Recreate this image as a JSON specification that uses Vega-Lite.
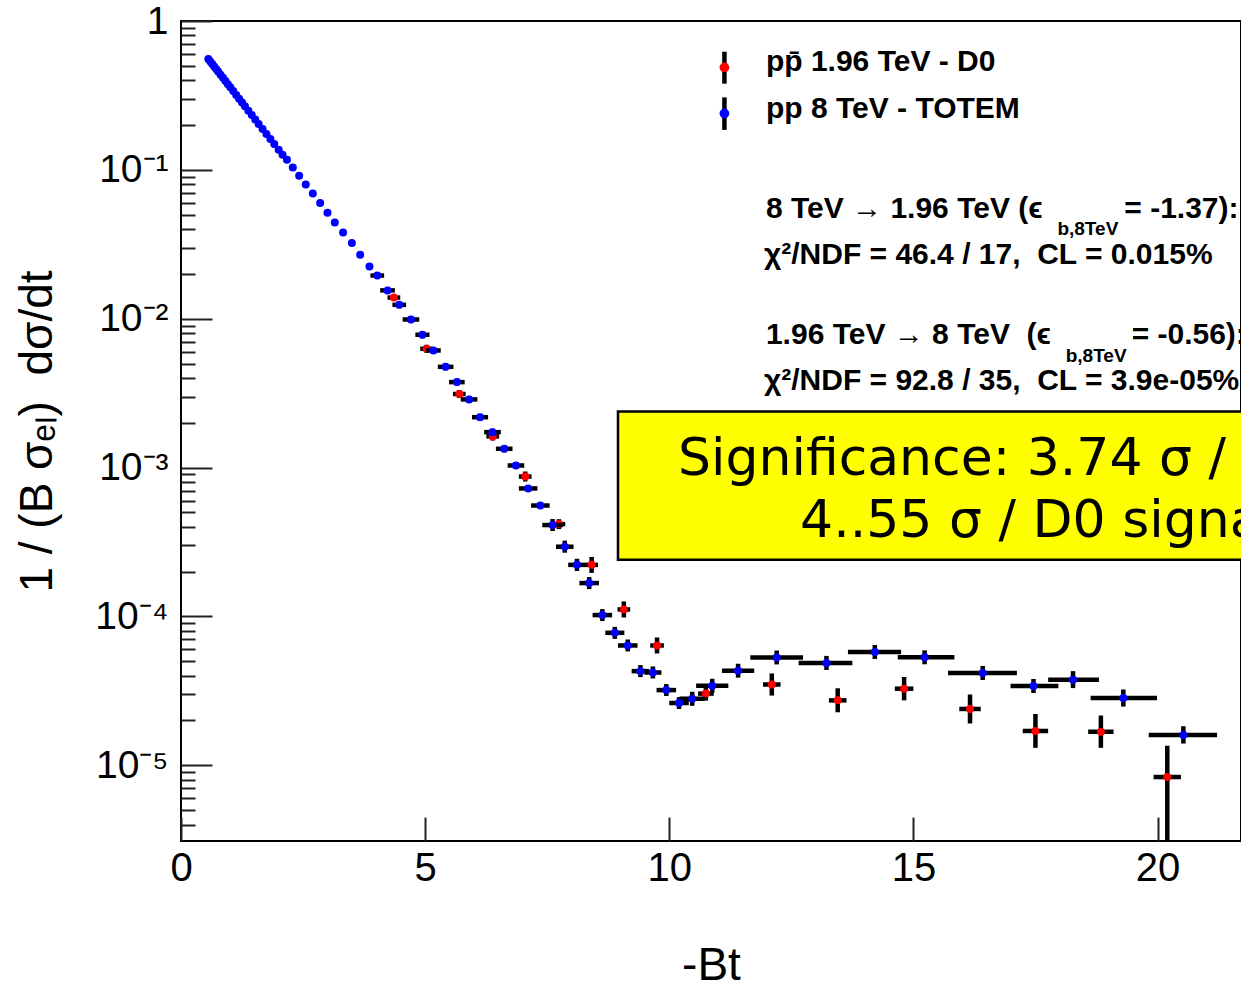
{
  "$schema": "https://vega.github.io/schema/vega-lite/v6.json",
  "width": 1060,
  "height": 820,
  "autosize": {"type": "none"},
  "padding": {"left": 181, "top": 21, "right": 0, "bottom": 150},
  "background": "white",
  "config": {
    "view": {"stroke": "black", "strokeWidth": 2},
    "font": "Liberation Sans"
  },
  "resolve": {"axis": {"x": "independent", "y": "independent"}},
  "datasets": {
    "totem": [
      {"bt": 0.56, "val": 0.556}, {"bt": 0.60, "val": 0.535}, {"bt": 0.64, "val": 0.5145}, {"bt": 0.68, "val": 0.4946},
      {"bt": 0.72, "val": 0.4757}, {"bt": 0.76, "val": 0.4575}, {"bt": 0.81, "val": 0.4357}, {"bt": 0.86, "val": 0.4150},
      {"bt": 0.91, "val": 0.3953}, {"bt": 0.96, "val": 0.3764}, {"bt": 1.01, "val": 0.3585}, {"bt": 1.07, "val": 0.3381},
      {"bt": 1.13, "val": 0.3189}, {"bt": 1.19, "val": 0.3008}, {"bt": 1.25, "val": 0.2837}, {"bt": 1.31, "val": 0.2676},
      {"bt": 1.38, "val": 0.2498}, {"bt": 1.45, "val": 0.2334}, {"bt": 1.52, "val": 0.2181}, {"bt": 1.59, "val": 0.2036},
      {"bt": 1.67, "val": 0.1884}, {"bt": 1.75, "val": 0.1742}, {"bt": 1.83, "val": 0.1612}, {"bt": 1.91, "val": 0.1491},
      {"bt": 2.00, "val": 0.1365}, {"bt": 2.08, "val": 0.1263}, {"bt": 2.17, "val": 0.1167}, {"bt": 2.29, "val": 0.1036},
      {"bt": 2.42, "val": 0.0912}, {"bt": 2.555, "val": 0.0797}, {"bt": 2.70, "val": 0.0693}, {"bt": 2.85, "val": 0.0600},
      {"bt": 3.00, "val": 0.0516}, {"bt": 3.15, "val": 0.0443}, {"bt": 3.32, "val": 0.0379}, {"bt": 3.50, "val": 0.0323},
      {"bt": 3.67, "val": 0.0269}, {"bt": 3.86, "val": 0.0224},
      {"bt": 4.02, "val": 0.0195, "xlo": 3.88, "xhi": 4.16, "ylo": 0.01847, "yhi": 0.02058},
      {"bt": 4.23, "val": 0.0155, "xlo": 4.08, "xhi": 4.38, "ylo": 0.01468, "yhi": 0.01636},
      {"bt": 4.47, "val": 0.0124, "xlo": 4.33, "xhi": 4.61, "ylo": 0.01175, "yhi": 0.01309},
      {"bt": 4.71, "val": 0.00988, "xlo": 4.54, "xhi": 4.88, "ylo": 0.00936, "yhi": 0.01043},
      {"bt": 4.945, "val": 0.0078, "xlo": 4.80, "xhi": 5.09, "ylo": 0.00739, "yhi": 0.00823},
      {"bt": 5.17, "val": 0.00612, "xlo": 5.02, "xhi": 5.32, "ylo": 0.0058, "yhi": 0.00646},
      {"bt": 5.42, "val": 0.00475, "xlo": 5.26, "xhi": 5.58, "ylo": 0.0045, "yhi": 0.00501},
      {"bt": 5.65, "val": 0.00375, "xlo": 5.49, "xhi": 5.81, "ylo": 0.00355, "yhi": 0.00396},
      {"bt": 5.90, "val": 0.00287, "xlo": 5.73, "xhi": 6.07, "ylo": 0.00272, "yhi": 0.00303},
      {"bt": 6.125, "val": 0.00218, "xlo": 5.96, "xhi": 6.29, "ylo": 0.002065, "yhi": 0.0023},
      {"bt": 6.38, "val": 0.00173, "xlo": 6.21, "xhi": 6.55, "ylo": 0.00164, "yhi": 0.001826},
      {"bt": 6.62, "val": 0.001337, "xlo": 6.45, "xhi": 6.79, "ylo": 0.001267, "yhi": 0.001411},
      {"bt": 6.86, "val": 0.001033, "xlo": 6.69, "xhi": 7.03, "ylo": 0.000979, "yhi": 0.00109},
      {"bt": 7.11, "val": 0.000724, "xlo": 6.92, "xhi": 7.30, "ylo": 0.000686, "yhi": 0.000764},
      {"bt": 7.36, "val": 0.000556, "xlo": 7.17, "xhi": 7.55, "ylo": 0.000527, "yhi": 0.000587},
      {"bt": 7.61, "val": 0.000411, "xlo": 7.40, "xhi": 7.82, "ylo": 0.000375, "yhi": 0.000451},
      {"bt": 7.86, "val": 0.000294, "xlo": 7.68, "xhi": 8.04, "ylo": 0.000268, "yhi": 0.000323},
      {"bt": 8.11, "val": 0.000222, "xlo": 7.93, "xhi": 8.29, "ylo": 0.000202, "yhi": 0.000244},
      {"bt": 8.36, "val": 0.0001675, "xlo": 8.16, "xhi": 8.56, "ylo": 0.0001527, "yhi": 0.0001838},
      {"bt": 8.63, "val": 0.0001021, "xlo": 8.43, "xhi": 8.83, "ylo": 0.0000931, "yhi": 0.000112},
      {"bt": 8.885, "val": 0.0000776, "xlo": 8.69, "xhi": 9.08, "ylo": 0.0000707, "yhi": 0.0000851},
      {"bt": 9.15, "val": 0.0000638, "xlo": 8.95, "xhi": 9.35, "ylo": 0.0000582, "yhi": 0.00007},
      {"bt": 9.41, "val": 0.0000429, "xlo": 9.23, "xhi": 9.59, "ylo": 0.0000391, "yhi": 0.0000471},
      {"bt": 9.665, "val": 0.000042, "xlo": 9.49, "xhi": 9.84, "ylo": 0.0000383, "yhi": 0.0000461},
      {"bt": 9.94, "val": 0.000032, "xlo": 9.74, "xhi": 10.14, "ylo": 0.0000292, "yhi": 0.0000351},
      {"bt": 10.2, "val": 0.0000262, "xlo": 10.0, "xhi": 10.4, "ylo": 0.0000239, "yhi": 0.0000287},
      {"bt": 10.47, "val": 0.000028, "xlo": 10.21, "xhi": 10.73, "ylo": 0.0000251, "yhi": 0.0000312},
      {"bt": 10.88, "val": 0.0000342, "xlo": 10.55, "xhi": 11.21, "ylo": 0.0000307, "yhi": 0.0000381},
      {"bt": 11.41, "val": 0.0000432, "xlo": 11.08, "xhi": 11.74, "ylo": 0.0000388, "yhi": 0.0000481},
      {"bt": 12.2, "val": 0.000053, "xlo": 11.66, "xhi": 12.74, "ylo": 0.0000476, "yhi": 0.000059},
      {"bt": 13.22, "val": 0.0000487, "xlo": 12.65, "xhi": 13.75, "ylo": 0.0000437, "yhi": 0.0000543},
      {"bt": 14.21, "val": 0.0000577, "xlo": 13.66, "xhi": 14.75, "ylo": 0.0000518, "yhi": 0.0000643},
      {"bt": 15.23, "val": 0.0000531, "xlo": 14.68, "xhi": 15.84, "ylo": 0.0000477, "yhi": 0.0000592},
      {"bt": 16.42, "val": 0.0000417, "xlo": 15.71, "xhi": 17.12, "ylo": 0.0000374, "yhi": 0.0000465},
      {"bt": 17.46, "val": 0.0000341, "xlo": 16.99, "xhi": 17.97, "ylo": 0.0000306, "yhi": 0.000038},
      {"bt": 18.27, "val": 0.0000376, "xlo": 17.76, "xhi": 18.80, "ylo": 0.000033, "yhi": 0.0000429},
      {"bt": 19.30, "val": 0.0000283, "xlo": 18.63, "xhi": 19.99, "ylo": 0.0000248, "yhi": 0.0000323},
      {"bt": 20.53, "val": 0.000016, "xlo": 19.82, "xhi": 21.22, "ylo": 0.000014, "yhi": 0.0000183}
    ],
    "d0": [
      {"bt": 4.36, "val": 0.01387, "xlo": 4.23, "xhi": 4.49, "ylo": 0.01325, "yhi": 0.01452},
      {"bt": 5.03, "val": 0.00628, "xlo": 4.90, "xhi": 5.16, "ylo": 0.0059, "yhi": 0.00668},
      {"bt": 5.70, "val": 0.00312, "xlo": 5.57, "xhi": 5.83, "ylo": 0.00293, "yhi": 0.00332},
      {"bt": 6.385, "val": 0.00162, "xlo": 6.255, "xhi": 6.515, "ylo": 0.00152, "yhi": 0.00172},
      {"bt": 7.05, "val": 0.000871, "xlo": 6.92, "xhi": 7.18, "ylo": 0.000806, "yhi": 0.000941},
      {"bt": 7.74, "val": 0.000417, "xlo": 7.61, "xhi": 7.87, "ylo": 0.000386, "yhi": 0.00045},
      {"bt": 8.41, "val": 0.000222, "xlo": 8.28, "xhi": 8.54, "ylo": 0.000196, "yhi": 0.000251},
      {"bt": 9.07, "val": 0.0001114, "xlo": 8.94, "xhi": 9.2, "ylo": 0.0000984, "yhi": 0.0001261},
      {"bt": 9.75, "val": 0.0000638, "xlo": 9.61, "xhi": 9.89, "ylo": 0.0000564, "yhi": 0.0000722},
      {"bt": 10.75, "val": 0.0000303, "xlo": 10.59, "xhi": 10.91, "ylo": 0.0000272, "yhi": 0.0000338},
      {"bt": 12.1, "val": 0.0000349, "xlo": 11.92, "xhi": 12.28, "ylo": 0.0000294, "yhi": 0.0000414},
      {"bt": 13.45, "val": 0.0000273, "xlo": 13.27, "xhi": 13.63, "ylo": 0.0000227, "yhi": 0.0000329},
      {"bt": 14.81, "val": 0.0000327, "xlo": 14.62, "xhi": 15.0, "ylo": 0.0000273, "yhi": 0.0000392},
      {"bt": 16.16, "val": 0.0000239, "xlo": 15.94, "xhi": 16.38, "ylo": 0.0000191, "yhi": 0.0000299},
      {"bt": 17.50, "val": 0.000017, "xlo": 17.24, "xhi": 17.76, "ylo": 0.0000131, "yhi": 0.0000221},
      {"bt": 18.84, "val": 0.0000168, "xlo": 18.58, "xhi": 19.1, "ylo": 0.0000131, "yhi": 0.0000216},
      {"bt": 20.20, "val": 0.00000834, "xlo": 19.92, "xhi": 20.48, "ylo": 0.000001, "yhi": 0.00001354}
    ]
  },
  "layer": [
    {
      "data": {"name": "d0"},
      "mark": {"type": "rule", "color": "black", "strokeWidth": 4.5, "clip": true},
      "encoding": {
        "x": {"field": "xlo", "type": "quantitative", "scale": {"domain": [0, 21.71], "nice": false, "zero": false}, "axis": null},
        "x2": {"field": "xhi"},
        "y": {"field": "val", "type": "quantitative", "scale": {"type": "log", "domain": [0.0000031, 1], "nice": false}, "axis": null}
      }
    },
    {
      "data": {"name": "d0"},
      "mark": {"type": "rule", "color": "black", "strokeWidth": 4.5, "clip": true},
      "encoding": {
        "x": {"field": "bt", "type": "quantitative", "scale": {"domain": [0, 21.71], "nice": false, "zero": false}, "axis": null},
        "y": {"field": "ylo", "type": "quantitative", "scale": {"type": "log", "domain": [0.0000031, 1], "nice": false}, "axis": null},
        "y2": {"field": "yhi"}
      }
    },
    {
      "data": {"name": "d0"},
      "mark": {"type": "point", "shape": "circle", "filled": true, "color": "#ff0000", "opacity": 1, "size": 64},
      "encoding": {
        "x": {"field": "bt", "type": "quantitative", "scale": {"domain": [0, 21.71], "nice": false, "zero": false}, "axis": null},
        "y": {
          "field": "val", "type": "quantitative",
          "scale": {"type": "log", "domain": [0.0000031, 1], "nice": false},
          "axis": {
            "orient": "left", "values": [0.000004, 0.000005, 0.000006, 0.000007, 0.000008, 0.000009,
              0.00002, 0.00003, 0.00004, 0.00005, 0.00006, 0.00007, 0.00008, 0.00009,
              0.0002, 0.0003, 0.0004, 0.0005, 0.0006, 0.0007, 0.0008, 0.0009,
              0.002, 0.003, 0.004, 0.005, 0.006, 0.007, 0.008, 0.009,
              0.02, 0.03, 0.04, 0.05, 0.06, 0.07, 0.08, 0.09,
              0.2, 0.3, 0.4, 0.5, 0.6, 0.7, 0.8, 0.9],
            "labels": false, "domain": false, "grid": false, "title": null,
            "tickSize": -14, "tickWidth": 2, "tickColor": "#222222"
          }
        }
      }
    },
    {
      "data": {"name": "totem"},
      "transform": [{"filter": "isValid(datum.xlo)"}],
      "mark": {"type": "rule", "color": "black", "strokeWidth": 4.5, "clip": true},
      "encoding": {
        "x": {"field": "xlo", "type": "quantitative", "scale": {"domain": [0, 21.71], "nice": false, "zero": false}, "axis": null},
        "x2": {"field": "xhi"},
        "y": {"field": "val", "type": "quantitative", "scale": {"type": "log", "domain": [0.0000031, 1], "nice": false}, "axis": null}
      }
    },
    {
      "data": {"name": "totem"},
      "transform": [{"filter": "isValid(datum.ylo)"}],
      "mark": {"type": "rule", "color": "black", "strokeWidth": 4.5, "clip": true},
      "encoding": {
        "x": {"field": "bt", "type": "quantitative", "scale": {"domain": [0, 21.71], "nice": false, "zero": false}, "axis": null},
        "y": {"field": "ylo", "type": "quantitative", "scale": {"type": "log", "domain": [0.0000031, 1], "nice": false}, "axis": null},
        "y2": {"field": "yhi"}
      }
    },
    {
      "data": {"name": "totem"},
      "mark": {"type": "point", "shape": "circle", "filled": true, "color": "#0000ff", "opacity": 1, "size": 64},
      "encoding": {
        "x": {
          "field": "bt", "type": "quantitative",
          "scale": {"domain": [0, 21.71], "nice": false, "zero": false},
          "axis": {
            "orient": "bottom", "values": [0, 5, 10, 15, 20], "tickSize": -24, "tickWidth": 2, "tickColor": "#222222",
            "domain": false, "grid": false, "labelFontSize": 40, "labelColor": "black", "labelPadding": 31,
            "labelFlush": false, "labelOverlap": false, "labelBound": false,
            "title": "-Bt", "titleFontSize": 46, "titleFontWeight": "normal", "titleColor": "black", "titlePadding": 55
          }
        },
        "y": {
          "field": "val", "type": "quantitative",
          "scale": {"type": "log", "domain": [0.0000031, 1], "nice": false},
          "axis": {
            "orient": "left", "values": [0.00001, 0.0001, 0.001, 0.01, 0.1, 1],
            "tickSize": -31, "tickWidth": 2, "tickColor": "#222222", "domain": false, "grid": false,
            "labelFontSize": 39, "labelColor": "black", "labelPadding": 44,
            "labelFlush": false, "labelOverlap": false, "labelBound": false,
            "labelExpr": "datum.value >= 0.99 ? '1' : '10⁻' + substring('¹²³⁴⁵⁶', round(-log(datum.value)/LN10) - 1, round(-log(datum.value)/LN10))",
            "title": "1 / (B σₑₗ)\u00a0\u00a0dσ/dt", "titleFontSize": 46, "titleFontWeight": "normal", "titleColor": "black", "titlePadding": 33
          }
        }
      }
    },
    {
      "data": {"values": [{}]},
      "mark": {"type": "rule", "color": "black", "strokeWidth": 4.5},
      "encoding": {
        "x": {"datum": 11.13, "type": "quantitative", "scale": {"domain": [0, 21.71], "nice": false, "zero": false}, "axis": null},
        "y": {"datum": 0.6218, "type": "quantitative", "scale": {"type": "log", "domain": [0.0000031, 1], "nice": false}, "axis": null},
        "y2": {"datum": 0.3793}
      }
    },
    {
      "data": {"values": [{}]},
      "mark": {"type": "point", "shape": "circle", "filled": true, "color": "#ff0000", "opacity": 1, "size": 95},
      "encoding": {
        "x": {"datum": 11.13, "type": "quantitative", "scale": {"domain": [0, 21.71], "nice": false, "zero": false}, "axis": null},
        "y": {"datum": 0.4873, "type": "quantitative", "scale": {"type": "log", "domain": [0.0000031, 1], "nice": false}, "axis": null}
      }
    },
    {
      "data": {"values": [{}]},
      "mark": {"type": "rule", "color": "black", "strokeWidth": 4.5},
      "encoding": {
        "x": {"datum": 11.13, "type": "quantitative", "scale": {"domain": [0, 21.71], "nice": false, "zero": false}, "axis": null},
        "y": {"datum": 0.3069, "type": "quantitative", "scale": {"type": "log", "domain": [0.0000031, 1], "nice": false}, "axis": null},
        "y2": {"datum": 0.1856}
      }
    },
    {
      "data": {"values": [{}]},
      "mark": {"type": "point", "shape": "circle", "filled": true, "color": "#0000ff", "opacity": 1, "size": 95},
      "encoding": {
        "x": {"datum": 11.13, "type": "quantitative", "scale": {"domain": [0, 21.71], "nice": false, "zero": false}, "axis": null},
        "y": {"datum": 0.2393, "type": "quantitative", "scale": {"type": "log", "domain": [0.0000031, 1], "nice": false}, "axis": null}
      }
    },
    {
      "data": {"values": [{}]},
      "mark": {"type": "text", "align": "left", "baseline": "alphabetic", "fontSize": 30, "fontWeight": "bold", "color": "black"},
      "encoding": {
        "x": {"datum": 11.98, "type": "quantitative", "scale": {"domain": [0, 21.71], "nice": false, "zero": false}, "axis": null},
        "y": {"datum": 0.4586, "type": "quantitative", "scale": {"type": "log", "domain": [0.0000031, 1], "nice": false}, "axis": null},
        "text": {"value": "pp̄ 1.96 TeV - D0"}
      }
    },
    {
      "data": {"values": [{}]},
      "mark": {"type": "text", "align": "left", "baseline": "alphabetic", "fontSize": 30, "fontWeight": "bold", "color": "black"},
      "encoding": {
        "x": {"datum": 11.98, "type": "quantitative", "scale": {"domain": [0, 21.71], "nice": false, "zero": false}, "axis": null},
        "y": {"datum": 0.2242, "type": "quantitative", "scale": {"type": "log", "domain": [0.0000031, 1], "nice": false}, "axis": null},
        "text": {"value": "pp 8 TeV - TOTEM"}
      }
    },
    {
      "data": {"values": [{}]},
      "mark": {"type": "text", "align": "left", "baseline": "alphabetic", "fontSize": 30, "fontWeight": "bold", "color": "black"},
      "encoding": {
        "x": {"datum": 11.98, "type": "quantitative", "scale": {"domain": [0, 21.71], "nice": false, "zero": false}, "axis": null},
        "y": {"datum": 0.0476, "type": "quantitative", "scale": {"type": "log", "domain": [0.0000031, 1], "nice": false}, "axis": null},
        "text": {"value": "8 TeV → 1.96 TeV (ϵ"}
      }
    },
    {
      "data": {"values": [{}]},
      "mark": {"type": "text", "align": "left", "baseline": "alphabetic", "fontSize": 19, "fontWeight": "bold", "color": "black"},
      "encoding": {
        "x": {"datum": 17.95, "type": "quantitative", "scale": {"domain": [0, 21.71], "nice": false, "zero": false}, "axis": null},
        "y": {"datum": 0.03631, "type": "quantitative", "scale": {"type": "log", "domain": [0.0000031, 1], "nice": false}, "axis": null},
        "text": {"value": "b,8TeV"}
      }
    },
    {
      "data": {"values": [{}]},
      "mark": {"type": "text", "align": "left", "baseline": "alphabetic", "fontSize": 30, "fontWeight": "bold", "color": "black"},
      "encoding": {
        "x": {"datum": 19.32, "type": "quantitative", "scale": {"domain": [0, 21.71], "nice": false, "zero": false}, "axis": null},
        "y": {"datum": 0.0476, "type": "quantitative", "scale": {"type": "log", "domain": [0.0000031, 1], "nice": false}, "axis": null},
        "text": {"value": "= -1.37):"}
      }
    },
    {
      "data": {"values": [{}]},
      "mark": {"type": "text", "align": "left", "baseline": "alphabetic", "fontSize": 30, "fontWeight": "bold", "color": "black"},
      "encoding": {
        "x": {"datum": 11.94, "type": "quantitative", "scale": {"domain": [0, 21.71], "nice": false, "zero": false}, "axis": null},
        "y": {"datum": 0.02348, "type": "quantitative", "scale": {"type": "log", "domain": [0.0000031, 1], "nice": false}, "axis": null},
        "text": {"value": "χ²/NDF = 46.4 / 17,\u00a0\u00a0CL = 0.015%"}
      }
    },
    {
      "data": {"values": [{}]},
      "mark": {"type": "text", "align": "left", "baseline": "alphabetic", "fontSize": 30, "fontWeight": "bold", "color": "black"},
      "encoding": {
        "x": {"datum": 11.98, "type": "quantitative", "scale": {"domain": [0, 21.71], "nice": false, "zero": false}, "axis": null},
        "y": {"datum": 0.006805, "type": "quantitative", "scale": {"type": "log", "domain": [0.0000031, 1], "nice": false}, "axis": null},
        "text": {"value": "1.96 TeV → 8 TeV\u00a0\u00a0(ϵ"}
      }
    },
    {
      "data": {"values": [{}]},
      "mark": {"type": "text", "align": "left", "baseline": "alphabetic", "fontSize": 19, "fontWeight": "bold", "color": "black"},
      "encoding": {
        "x": {"datum": 18.12, "type": "quantitative", "scale": {"domain": [0, 21.71], "nice": false, "zero": false}, "axis": null},
        "y": {"datum": 0.005136, "type": "quantitative", "scale": {"type": "log", "domain": [0.0000031, 1], "nice": false}, "axis": null},
        "text": {"value": "b,8TeV"}
      }
    },
    {
      "data": {"values": [{}]},
      "mark": {"type": "text", "align": "left", "baseline": "alphabetic", "fontSize": 30, "fontWeight": "bold", "color": "black"},
      "encoding": {
        "x": {"datum": 19.47, "type": "quantitative", "scale": {"domain": [0, 21.71], "nice": false, "zero": false}, "axis": null},
        "y": {"datum": 0.006805, "type": "quantitative", "scale": {"type": "log", "domain": [0.0000031, 1], "nice": false}, "axis": null},
        "text": {"value": "= -0.56):"}
      }
    },
    {
      "data": {"values": [{}]},
      "mark": {"type": "text", "align": "left", "baseline": "alphabetic", "fontSize": 30, "fontWeight": "bold", "color": "black"},
      "encoding": {
        "x": {"datum": 11.94, "type": "quantitative", "scale": {"domain": [0, 21.71], "nice": false, "zero": false}, "axis": null},
        "y": {"datum": 0.00333, "type": "quantitative", "scale": {"type": "log", "domain": [0.0000031, 1], "nice": false}, "axis": null},
        "text": {"value": "χ²/NDF = 92.8 / 35,\u00a0\u00a0CL = 3.9e-05%"}
      }
    },
    {
      "data": {"values": [{}]},
      "mark": {"type": "rect", "fill": "#ffff00", "stroke": "black", "strokeWidth": 2.5, "clip": true},
      "encoding": {
        "x": {"datum": 8.95, "type": "quantitative", "scale": {"domain": [0, 21.71], "nice": false, "zero": false}, "axis": null},
        "x2": {"datum": 23},
        "y": {"datum": 0.002381, "type": "quantitative", "scale": {"type": "log", "domain": [0.0000031, 1], "nice": false}, "axis": null},
        "y2": {"datum": 0.0002403}
      }
    },
    {
      "data": {"values": [{}]},
      "mark": {"type": "text", "align": "left", "baseline": "alphabetic", "fontSize": 52, "font": "DejaVu Sans", "color": "black"},
      "encoding": {
        "x": {"datum": 10.18, "type": "quantitative", "scale": {"domain": [0, 21.71], "nice": false, "zero": false}, "axis": null},
        "y": {"datum": 0.0008944, "type": "quantitative", "scale": {"type": "log", "domain": [0.0000031, 1], "nice": false}, "axis": null},
        "text": {"value": "Significance: 3.74 σ / TOTEM signal"}
      }
    },
    {
      "data": {"values": [{}]},
      "mark": {"type": "text", "align": "left", "baseline": "alphabetic", "fontSize": 52, "font": "DejaVu Sans", "color": "black"},
      "encoding": {
        "x": {"datum": 12.68, "type": "quantitative", "scale": {"domain": [0, 21.71], "nice": false, "zero": false}, "axis": null},
        "y": {"datum": 0.0003429, "type": "quantitative", "scale": {"type": "log", "domain": [0.0000031, 1], "nice": false}, "axis": null},
        "text": {"value": "4..55 σ / D0 signal"}
      }
    }
  ]
}
